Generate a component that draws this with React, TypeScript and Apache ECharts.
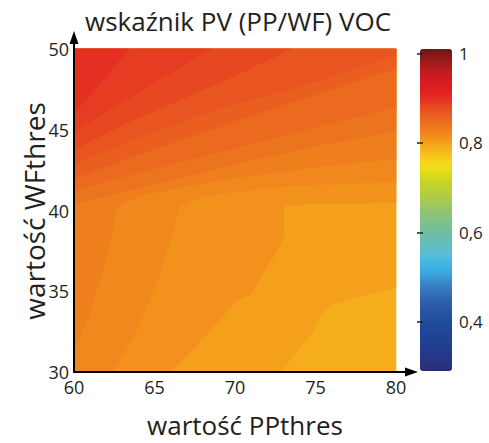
import React, { useEffect, useRef } from "react";
import * as echarts from "echarts";

// Axis extents (PPthres on x, WFthres on y)
const X_MIN = 60;
const X_MAX = 80;
const Y_MIN = 30;
const Y_MAX = 50;
const xTicks = [60, 65, 70, 75, 80];
const yTicks = [30, 35, 40, 45, 50];

// Contour levels of the PV (PP/WF) VOC index and, for each level, the
// contour line [PPthres, WFthres] above/left of which the index reaches that level
const bandLevels = [0.79, 0.8, 0.81, 0.82, 0.83, 0.84, 0.85, 0.86, 0.87, 0.88, 0.89, 0.9];
const plotOutline = [[60, 30], [80, 30], [80, 50], [60, 50]];
const c080 = [[72.8, 30], [73.8, 31.2], [74.85, 32.5], [75.3, 33.5], [75.9, 34.15], [77.8, 34.7], [80, 35.2]];
const c081 = [[66, 30], [67.5, 31.5], [69, 33.2], [70.2, 34.5], [71, 34.8], [71.8, 36.2], [72.5, 37.3], [73, 38.3], [73, 40.3], [74.5, 40.4], [80, 40.5]];
const c082 = [[62.4, 30], [63, 31], [63.7, 32.1], [64.3, 33.5], [64.9, 35], [65.4, 36.2], [66, 38.3], [66.6, 40.3], [68, 40.9], [73, 41.5], [80, 41.8]];
const c083 = [[60, 31.3], [60.8, 33.1], [61.3, 34.8], [61.8, 36.2], [62.3, 38.3], [62.7, 40.3], [64, 40.9], [67, 41.5], [70, 42], [75, 42.7], [80, 43.2]];
const c084 = [[60, 40.4], [62, 40.9], [64, 41.4], [67, 42.1], [71, 43.1], [75, 44], [80, 44.9]];
const c085 = [[60, 41.2], [62, 41.8], [65, 42.6], [69, 43.6], [74, 44.9], [80, 46.4]];
const c086 = [[60, 42], [63, 43.1], [67, 44.5], [72, 46.2], [76, 47.5], [80, 48.8]];
const c087 = [[60, 42.9], [63, 44.1], [67, 45.6], [70, 46.6], [74.1, 47.7], [77, 48.6], [80, 49.6]];
const c088 = [[60, 43.8], [63, 45.3], [66, 46.6], [69.7, 48.2], [73.5, 50]];
const c089 = [[60, 44.9], [62, 46.1], [64, 47.3], [66, 48.5], [68, 49.7], [68.5, 50]];
const c090 = [[60, 46.1], [61, 47.2], [62, 48.3], [63.4, 50]];
const bandEdges = [plotOutline, c080, c081, c082, c083, c084, c085, c086, c087, c088, c089, c090];

// Colour bar
const colorbarTicks = [0.4, 0.6, 0.8, 1];
const scaleMin = 0.29;
const scaleMax = 1.01;
// colour scale, evenly spaced from scaleMin to scaleMax (step 0.02)
const colorStops = [
  "#2c2c74", "#2a3382", "#253a8b", "#214091", "#204596", "#22499b", "#254fa0", "#2957a7",
  "#2f63af", "#3575bd", "#398dcd", "#3aa7e0", "#42b7e6", "#58bdd6", "#66bdc3", "#6cbdad",
  "#75be99", "#85c184", "#95c46c", "#a7c953", "#b7ce3b", "#c5d327", "#dcda1a", "#f4de1a",
  "#f8c41b", "#f6ad1c", "#f2921c", "#ef7e1d", "#eb6a1f", "#e85520", "#e63c22", "#e32322",
  "#da1d22", "#c91c20", "#b01b1d", "#8f1a19", "#6e1715",
];

const FONT = "'Open Sans', 'Noto Sans', sans-serif";
const TXT = "#231f20";

// region where the index is at or above a level: its contour line closed
// through the upper-left part of the plot
function regionAbove(edge: number[][]): number[][] {
  if (edge === plotOutline) return edge;
  const pts = edge.slice();
  const first = pts[0];
  const last = pts[pts.length - 1];
  if (last[0] === X_MAX && last[1] < Y_MAX) pts.push([X_MAX, Y_MAX]);
  pts.push([X_MIN, Y_MAX]);
  if (first[1] === Y_MIN && first[0] > X_MIN) pts.push([X_MIN, Y_MIN]);
  return pts;
}

export default function App() {
  const ref = useRef<HTMLDivElement>(null);
  useEffect(() => {
    const chart = echarts.init(ref.current as HTMLDivElement, null, { renderer: "svg" });
    const data = bandLevels.map((lv, i) => [lv, i]);

    const axisLine = { show: true, onZero: false, lineStyle: { color: "#000", width: 2 } };
    // plot frame in pixels (grid 0)
    const gx = 74;
    const gy = 49;
    const gw = 322;
    const gh = 323;

    chart.setOption({
      animation: false,
      title: {
        text: "wskaźnik PV (PP/WF) VOC",
        left: 80,
        top: 3,
        textStyle: { fontFamily: FONT, fontSize: 26, fontWeight: "normal", color: TXT },
      },
      grid: [
        { left: gx, top: gy, width: gw, height: gh, outerBoundsMode: "none", containLabel: false },
        { left: 420, top: 49, width: 32, height: 322, outerBoundsMode: "none", containLabel: false },
      ],
      xAxis: [
        {
          type: "value",
          gridIndex: 0,
          min: X_MIN,
          max: X_MAX,
          interval: 5,
          z: 5,
          axisLine,
          axisTick: { show: false },
          splitLine: { show: false },
          axisLabel: {
            formatter: (v: number) => (xTicks.includes(v) ? String(v) : ""),
            fontSize: 18,
            fontFamily: FONT,
            color: TXT,
            margin: 6,
          },
        },
        { type: "value", gridIndex: 1, show: false, min: 0, max: 1 },
      ],
      yAxis: [
        {
          type: "value",
          gridIndex: 0,
          min: Y_MIN,
          max: Y_MAX,
          interval: 5,
          z: 5,
          axisLine,
          axisTick: { show: false },
          splitLine: { show: false },
          axisLabel: {
            formatter: (v: number) => (yTicks.includes(v) ? String(v) : ""),
            fontSize: 18,
            fontFamily: FONT,
            color: TXT,
            margin: 5,
            padding: [0, 0, 8, 0],
          },
        },
        {
          type: "value",
          gridIndex: 1,
          min: scaleMin,
          max: scaleMax,
          position: "right",
          z: 10,
          axisLine: { show: false },
          splitLine: { show: false },
          axisTick: {
            show: true,
            inside: true,
            length: 3,
            customValues: colorbarTicks,
            lineStyle: { color: TXT, width: 1.5 },
          },
          axisLabel: {
            customValues: colorbarTicks,
            formatter: (v: number) => String(v).replace(".", ","),
            fontSize: 17,
            fontFamily: FONT,
            color: TXT,
            margin: 7,
            padding: [0, 0, 4, 0],
          },
        },
        {
          type: "value",
          gridIndex: 1,
          min: scaleMin,
          max: scaleMax,
          position: "left",
          z: 10,
          axisLine: { show: false },
          splitLine: { show: false },
          axisTick: {
            show: true,
            inside: true,
            length: 3,
            customValues: colorbarTicks,
            lineStyle: { color: TXT, width: 1.5 },
          },
          axisLabel: { show: false },
        },
      ],
      visualMap: {
        type: "continuous",
        min: scaleMin,
        max: scaleMax,
        dimension: 0,
        seriesIndex: 0,
        orient: "vertical",
        left: 420,
        top: 49,
        itemWidth: 32,
        itemHeight: 322,
        padding: 0,
        calculable: false,
        hoverLink: false,
        text: null,
        inRange: { color: colorStops },
      },
      graphic: [
        // axis extensions with arrow heads
        {
          type: "line",
          z: 20,
          shape: { x1: gx + gw - 1, y1: gy + gh, x2: 410, y2: gy + gh },
          style: { stroke: "#000", lineWidth: 2 },
        },
        {
          type: "polygon",
          z: 20,
          shape: { points: [[418, gy + gh], [405, gy + gh - 4.5], [405, gy + gh + 4.5]] },
          style: { fill: "#000" },
        },
        {
          type: "line",
          z: 20,
          shape: { x1: gx, y1: gy + 1, x2: gx, y2: 40 },
          style: { stroke: "#000", lineWidth: 2 },
        },
        {
          type: "polygon",
          z: 20,
          shape: { points: [[gx, 31], [gx - 4.5, 44], [gx + 4.5, 44]] },
          style: { fill: "#000" },
        },
        {
          type: "text",
          x: 245,
          y: 425,
          style: {
            text: "wartość PPthres",
            fontSize: 26,
            fontFamily: FONT,
            fill: TXT,
            textAlign: "center",
            textVerticalAlign: "middle",
          },
        },
        {
          type: "text",
          x: 34,
          y: 211,
          rotation: Math.PI / 2,
          style: {
            text: "wartość WFthres",
            fontSize: 28,
            fontFamily: FONT,
            fill: TXT,
            textAlign: "center",
            textVerticalAlign: "middle",
          },
        },
      ],
      series: [
        {
          type: "custom",
          coordinateSystem: "cartesian2d",
          xAxisIndex: 0,
          yAxisIndex: 0,
          data,
          silent: true,
          renderItem: (params: any, api: any) => {
            const idx = api.value(1);
            const pts = regionAbove(bandEdges[idx]).map((p) => api.coord(p));
            return {
              type: "polygon",
              shape: { points: pts },
              style: { fill: api.visual("color"), stroke: api.visual("color"), lineWidth: 0.5 },
            };
          },
          z: 1,
        },
      ],
    });
    return () => chart.dispose();
  }, []);

  return (
    <div
      ref={ref}
      style={{ position: "fixed", left: 0, top: 0, width: 489, height: 443, background: "#fff" }}
    />
  );
}
